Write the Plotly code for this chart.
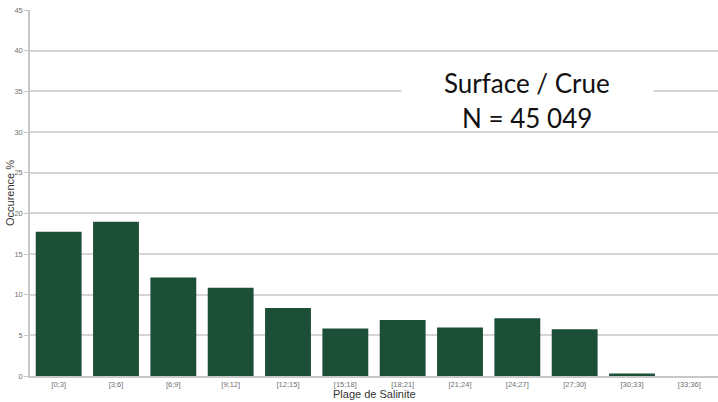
import plotly.graph_objects as go

categories = ["[0;3]", "[3;6]", "[6;9]", "[9;12]", "[12;15]", "[15;18]",
              "[18;21]", "[21;24]", "[24;27]", "[27;30]", "[30;33]", "[33;36]"]
occurrence = [17.75, 18.95, 12.1, 10.85, 8.35, 5.85, 6.9, 5.95, 7.1, 5.75, 0.3, 0.0]
y_ticks = [0, 5, 10, 15, 20, 25, 30, 35, 40, 45]
title_lines = ["Surface / Crue", "N = 45 049"]

fig = go.Figure()
fig.add_trace(go.Bar(
    x=categories, y=occurrence,
    marker=dict(color="#1c4f37", line=dict(width=0)),
))

annots = [
    dict(
        text=" ", xref="paper", yref="paper", x=0.723, y=0.7596,
        xanchor="center", yanchor="middle", showarrow=False,
        bgcolor="white", width=249, height=60,
    ),
    dict(
        text=title_lines[0], xref="paper", yref="paper", x=0.723, y=0.8005,
        xanchor="center", yanchor="middle", showarrow=False,
        font=dict(family="Lato, sans-serif", size=26, color="#111"),
    ),
    dict(
        text=title_lines[1], xref="paper", yref="paper", x=0.723, y=0.705,
        xanchor="center", yanchor="middle", showarrow=False,
        font=dict(family="Lato, sans-serif", size=26, color="#111"),
    ),
    dict(
        text="Plage de Salinite", xref="paper", yref="paper",
        x=0.5, y=0, yshift=-18, xanchor="center", yanchor="middle",
        showarrow=False, font=dict(size=11, color="#333"),
    ),
    dict(
        text="Occurence %", xref="paper", yref="paper",
        x=0, xshift=-20, y=0.5, textangle=-90,
        xanchor="center", yanchor="middle",
        showarrow=False, font=dict(size=11, color="#333"),
    ),
]

fig.update_layout(
    width=718, height=402,
    margin=dict(l=30, r=0, t=10, b=26),
    paper_bgcolor="white", plot_bgcolor="white",
    bargap=0.2,
    showlegend=False,
    font=dict(family="Liberation Sans, Arial, sans-serif", color="#555"),
    xaxis=dict(
        type="category", automargin=False,
        tickfont=dict(size=7.5, color="#707070"),
        ticks="", showline=True, linecolor="#c8c8c8", linewidth=1.5,
    ),
    yaxis=dict(
        range=[0, 45], tickvals=y_ticks, automargin=False,
        tickfont=dict(size=7.5, color="#707070"),
        showgrid=True, gridcolor="#d6d6d6", gridwidth=1.5,
        showline=True, linecolor="#c8c8c8", linewidth=1.5,
        zeroline=False, ticks="outside", ticklen=4, tickcolor="#c8c8c8",
    ),
    annotations=annots,
)

fig.write_html("out.html", config={"displayModeBar": False},
               post_script="document.body.style.margin='0';")
